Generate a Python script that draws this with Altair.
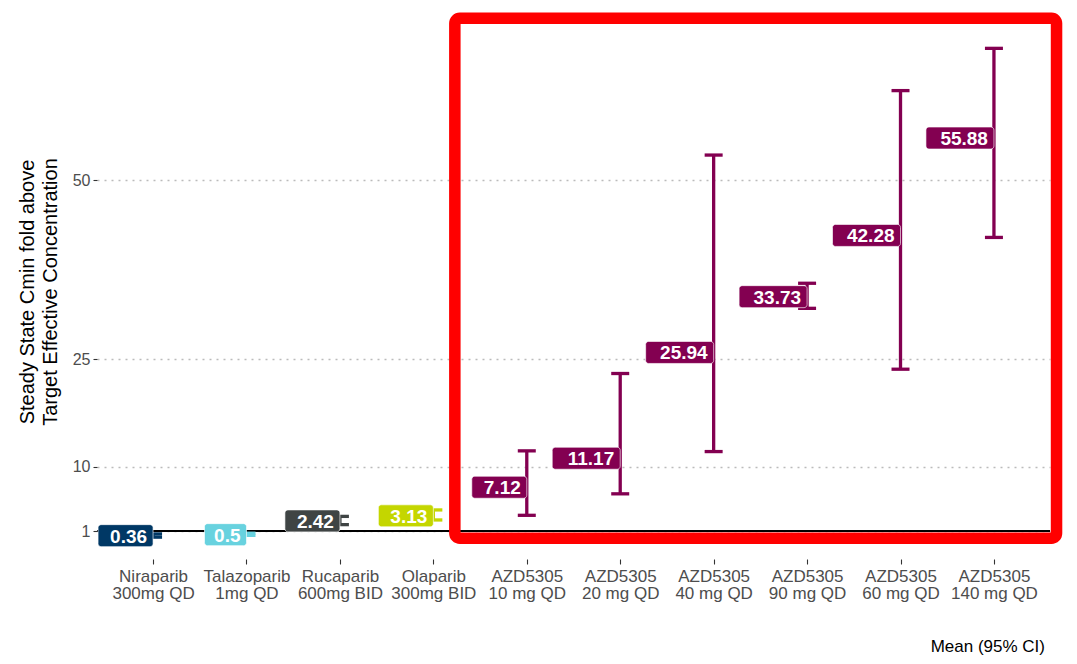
import altair as alt
import pandas as pd

# Drug / regimen per column and the fold-above-target summary
drugs = ["Niraparib", "Talazoparib", "Rucaparib", "Olaparib", "AZD5305",
         "AZD5305", "AZD5305", "AZD5305", "AZD5305", "AZD5305"]
regimens = ["300mg QD", "1mg QD", "600mg BID", "300mg BID", "10 mg QD",
            "20 mg QD", "40 mg QD", "90 mg QD", "60 mg QD", "140 mg QD"]
mean_fold = [0.36, 0.5, 2.42, 3.13, 7.12, 11.17, 25.94, 33.73, 42.28, 55.88]
ci_low = [0.15, 0.4, 1.9, 2.55, 3.2, 6.2, 12.1, 32.1, 23.6, 42.0]
ci_high = [0.6, 0.7, 3.05, 3.95, 12.2, 23.0, 53.5, 35.6, 62.5, 68.4]
y_ticks = [1, 10, 25, 50]

# Brand palette per drug
drug_names = ["Niraparib", "Talazoparib", "Rucaparib", "Olaparib", "AZD5305"]
drug_colors = ["#003865", "#68D2DF", "#3F4444", "#C4D600", "#830051"]

FONT = "Liberation Sans"
W, H = 953, 535
X_DOM = [-0.6, 9.6]
Y_DOM = [-2.9, 71.8]
PX_X = W / (X_DOM[1] - X_DOM[0])
PX_Y = H / (Y_DOM[1] - Y_DOM[0])

df = pd.DataFrame({
    "pos": list(range(len(drugs))),
    "drug": drugs,
    "regimen": regimens,
    "mean": mean_fold,
    "lo": ci_low,
    "hi": ci_high,
    "label": [f"{v:g}" for v in mean_fold],
})

tick_names = [f"{d}|{r}" for d, r in zip(drugs, regimens)]
names_literal = "[" + ",".join(f"'{t}'" for t in tick_names) + "]"

x_scale = alt.Scale(domain=X_DOM, nice=False, zero=False)
y_scale = alt.Scale(domain=Y_DOM, nice=False, zero=False)

x_axis = alt.Axis(
    values=list(range(len(drugs))),
    labelExpr=f"split({names_literal}[datum.value], '|')",
    title=None, domain=False, grid=False,
    tickSize=5, tickColor="#333333", tickWidth=1.1,
    labelColor="#4d4d4d", labelFontSize=17, labelFont=FONT,
    labelLineHeight=17, labelPadding=4,
)
y_axis = alt.Axis(
    values=y_ticks, format="d",
    title=["Steady State Cmin fold above", "Target Effective Concentration"],
    domain=False, tickSize=4, tickColor="#333333", tickWidth=1.1,
    labelColor="#4d4d4d", labelFontSize=16, labelFont=FONT, labelPadding=3,
    grid=True, gridDash=[2, 5], gridColor="#bbbbbb", gridWidth=1.3,
    titleFont=FONT, titleFontSize=20, titleFontWeight="normal",
    titleColor="black", titleLineHeight=23, titlePadding=12,
)


def X(field):
    return alt.X(field, type="quantitative", scale=x_scale, axis=x_axis)


def Y(field):
    return alt.Y(field, type="quantitative", scale=y_scale, axis=y_axis)


color = alt.Color("drug:N", scale=alt.Scale(domain=drug_names, range=drug_colors),
                  legend=None)

base = alt.Chart(df)

ref_line = base.mark_rule(color="black", strokeWidth=1.2).encode(y=alt.datum(1))

whisker = base.mark_rule(strokeWidth=3.3, opacity=1).encode(
    x=X("pos"), y=Y("lo"), y2="hi", color=color)
cap_hi = base.mark_tick(orient="horizontal", size=18, thickness=3.3, opacity=1).encode(
    x=X("pos"), y=Y("hi"), color=color)
cap_lo = base.mark_tick(orient="horizontal", size=18, thickness=3.3, opacity=1).encode(
    x=X("pos"), y=Y("lo"), color=color)

# label boxes sit to the left of each point, sized to the label text
boxes = base.transform_calculate(
    bx0=f"datum.pos - (13 * length(datum.label) + 3) / {PX_X}",
    by0=f"datum.mean - 11 / {PX_Y}",
    by1=f"datum.mean + 11 / {PX_Y}",
).mark_rect(cornerRadius=3, stroke="white", strokeWidth=0.8, strokeOpacity=0.8,
            opacity=1).encode(
    x=X("bx0"), x2="pos", y=Y("by0"), y2="by1", color=color)

labels = base.mark_text(
    align="right", baseline="middle", dx=-6, dy=1, color="white",
    font=FONT, fontSize=19, fontWeight="bold",
).encode(x=X("pos"), y=Y("mean"), text="label:N")

# highlight frame around the AZD5305 dose groups
frame_df = pd.DataFrame({"x0": [3.23], "x1": [9.67], "y0": [0.0], "y1": [72.6]})
frame = alt.Chart(frame_df).mark_rect(
    fill=None, stroke="#ff0000", strokeWidth=11.5, cornerRadius=5
).encode(x=X("x0"), x2="x1", y=Y("y0"), y2="y1")

caption = alt.Chart(pd.DataFrame({"t": ["Mean (95% CI)"]})).mark_text(
    align="right", baseline="middle", font=FONT, fontSize=17, color="black"
).encode(text="t:N", x=alt.value(948), y=alt.value(623))

chart = alt.layer(
    ref_line, whisker, cap_hi, cap_lo, boxes, labels, frame, caption
).properties(
    width=W, height=H,
    autosize=alt.AutoSizeParams(type="none"),
    padding={"left": 97, "top": 24, "right": 27, "bottom": 105},
    background="white",
).configure_view(stroke=None)

chart.save("out.html", embed_options={"renderer": "svg", "actions": False})
